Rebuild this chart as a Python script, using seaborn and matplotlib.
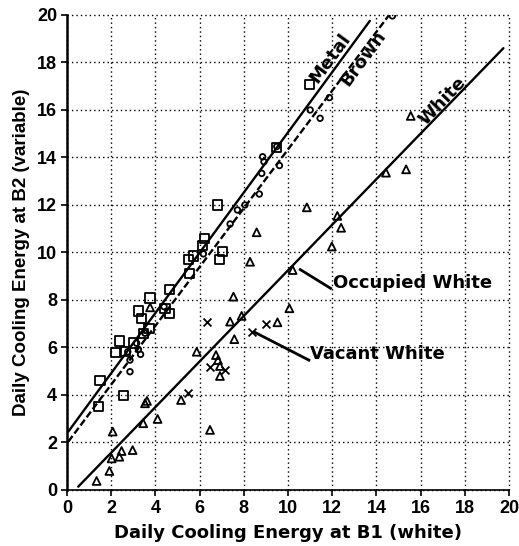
import numpy as np
import pandas as pd
import matplotlib
matplotlib.use("Agg")
import matplotlib.pyplot as plt
import seaborn as sns

# ---- data ----
metal_x = [1.42, 1.49, 2.55, 2.22, 2.62, 2.37, 3.0, 3.45, 3.72, 3.23, 3.38, 3.76, 4.43, 4.63,
           4.63, 5.53, 5.49, 5.72, 6.14, 6.21, 6.89, 7.04, 6.8, 9.49, 10.96]
metal_y = [3.51, 4.6, 3.97, 5.78, 5.82, 6.27, 6.18, 6.6, 6.81, 7.54, 7.23, 8.08, 7.65, 7.44,
           8.45, 9.12, 9.71, 9.85, 10.29, 10.6, 9.71, 10.03, 12.0, 14.41, 17.08]

brown_x = [2.85, 2.85, 2.75, 3.15, 3.23, 3.33, 3.53, 4.39, 6.17, 7.38, 7.71, 8.05, 8.7, 8.81,
           8.91, 8.85, 9.61, 9.49, 11.0, 11.45, 11.87, 14.72]
brown_y = [4.98, 5.47, 5.82, 6.18, 5.92, 5.71, 6.6, 7.72, 9.94, 11.2, 11.79, 12.0, 12.46, 13.33,
           13.82, 14.03, 13.66, 14.46, 16.0, 15.65, 16.52, 19.96]

occ_x = [1.34, 1.92, 2.02, 2.37, 2.47, 2.97, 2.07, 3.45, 4.1, 3.53, 3.62, 5.16, 6.47, 5.87,
         6.74, 6.83, 6.92, 6.92, 7.57, 7.38, 7.9, 7.53, 3.76, 8.28, 8.58, 9.52, 10.06, 10.21,
         10.85, 11.98, 12.23, 12.4, 14.43, 15.34, 15.55]
occ_y = [0.38, 0.8, 1.33, 1.4, 1.64, 1.68, 2.46, 2.81, 2.99, 3.65, 3.75, 3.79, 2.53, 5.82,
         5.68, 5.47, 5.22, 4.8, 6.35, 7.09, 7.33, 8.14, 7.69, 9.61, 10.85, 7.06, 7.65, 9.26,
         11.9, 10.25, 11.54, 11.04, 13.36, 13.5, 15.75]

vac_x = [5.46, 6.32, 6.47, 7.15, 8.39, 9.0]
vac_y = [4.07, 7.09, 5.17, 5.05, 6.67, 6.98]

# fitted lines: slope, intercept, x-start, x-end
line_names = ["Metal", "Brown", "White"]
line_slope = [1.268, 1.238, 0.960]
line_icpt = [2.38, 1.96, -0.35]
line_x0 = [0.06, 0.06, 0.51]
line_x1 = [13.7, 14.54, 19.74]

ticks = list(range(0, 21, 2))

# ---- figure ----
sns.set_theme(style="white")
plt.rcParams["font.family"] = ["Liberation Sans", "DejaVu Sans"]
plt.rcParams["font.weight"] = "bold"
for k in ["text.color", "axes.labelcolor", "xtick.color", "ytick.color"]:
    plt.rcParams[k] = "black"
LBL = dict(family="DejaVu Sans", fontweight="bold", color="black")

fig = plt.figure(figsize=(5.19, 5.46), dpi=100)
ax = fig.add_axes([0.129, 0.1026, 0.852, 0.87])

ax.set_xlim(0, 20)
ax.set_ylim(0, 20)

# dotted grid (including the top and right borders)
for t in ticks:
    ax.axhline(t, color="black", linestyle=(0, (1, 2.2)), lw=1.0, zorder=1, clip_on=False)
    ax.axvline(t, color="black", linestyle=(0, (1, 2.2)), lw=1.0, zorder=1, clip_on=False)

for name, m, b, x0, x1 in zip(line_names, line_slope, line_icpt, line_x0, line_x1):
    xs = np.array([x0, x1])
    df = pd.DataFrame({"x": xs, "y": m * xs + b})
    ls = (0, (3, 1.3)) if name == "Brown" else "-"
    sns.lineplot(data=df, x="x", y="y", ax=ax, color="black", lw=1.7, linestyle=ls, zorder=2)

sns.scatterplot(x=metal_x, y=metal_y, ax=ax, marker="s", s=46, facecolor="none",
                edgecolor="black", linewidth=1.3, zorder=3)
sns.scatterplot(x=brown_x, y=brown_y, ax=ax, marker="o", s=16, facecolor="none",
                edgecolor="black", linewidth=1.3, zorder=3)
sns.scatterplot(x=occ_x, y=occ_y, ax=ax, marker="^", s=32, facecolor="none",
                edgecolor="black", linewidth=1.3, zorder=3)
sns.scatterplot(x=vac_x, y=vac_y, ax=ax, marker="x", s=32, color="black",
                linewidth=1.3, zorder=3)

ax.set_xticks(ticks)
ax.set_yticks(ticks)
ax.set_xticklabels([str(t) for t in ticks], fontsize=13, fontweight="bold")
ax.set_yticklabels([str(t) for t in ticks], fontsize=13, fontweight="bold")
for s in ["top", "right"]:
    ax.spines[s].set_visible(False)
ax.spines["left"].set_color("black")
ax.spines["left"].set_linewidth(1.8)
ax.spines["left"].set_zorder(4)
ax.spines["bottom"].set_color("black")
ax.spines["bottom"].set_linewidth(1.2)
ax.spines["bottom"].set_linestyle((0, (1, 1)))
ax.tick_params(axis="both", length=4, width=1.2, color="black", labelcolor="black",
               pad=3, direction="out")
ax.tick_params(axis="y", left=True)
ax.tick_params(axis="x", bottom=True)

ax.set_xlabel("Daily Cooling Energy at B1 (white)", fontsize=13, labelpad=5, **LBL)
ax.set_ylabel("Daily Cooling Energy at B2 (variable)", fontsize=13.5, labelpad=5,
              family="Liberation Sans", fontweight="bold", color="black")

# line labels
ax.text(11.9, 18.2, "Metal", rotation=53.7, fontsize=13, ha="center", va="center",
        rotation_mode="anchor", **LBL)
ax.text(13.4, 18.2, "Brown", rotation=53.7, fontsize=13, ha="center", va="center",
        rotation_mode="anchor", **LBL)
ax.text(16.98, 16.39, "White", rotation=46, fontsize=13, ha="center", va="center",
        rotation_mode="anchor", **LBL)

# annotations with leader lines
ax.plot([10.5, 11.98], [9.31, 8.46], color="black", lw=2.0, solid_capstyle="butt", zorder=3)
ax.text(12.04, 8.72, "Occupied White", fontsize=13, ha="left", va="center", **LBL)
ax.plot([8.43, 11.0], [6.67, 5.44], color="black", lw=2.0, solid_capstyle="butt", zorder=3)
ax.text(11.0, 5.73, "Vacant White", fontsize=13, ha="left", va="center", **LBL)

fig.savefig("out.png", dpi=100)
